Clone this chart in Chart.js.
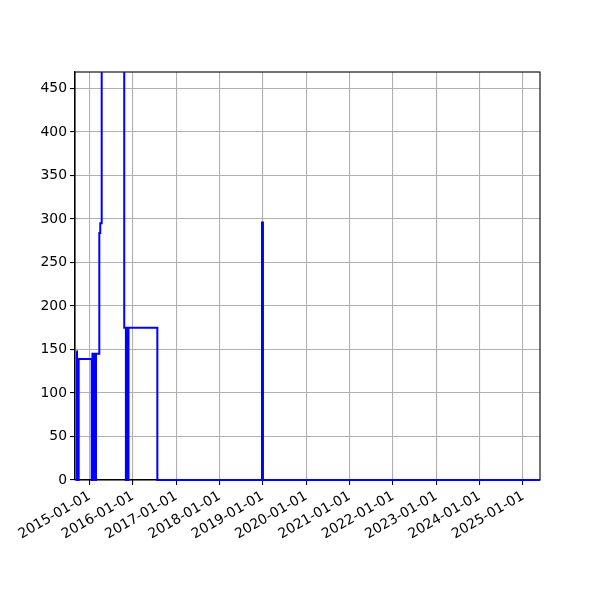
<!DOCTYPE html>
<html>
<head>
<meta charset="utf-8">
<script src="https://cdn.jsdelivr.net/npm/chart.js@4.4.1/dist/chart.umd.min.js"></script>
<style>
html,body{margin:0;padding:0;background:#fff;}
#wrap{width:600px;height:600px;}
</style>
</head>
<body>
<div id="wrap"><canvas id="c" width="600" height="600"></canvas></div>
<script>
// ---- data ----
const dates = [
  "2014-09-13","2014-09-17","2014-10-01","2015-01-19","2015-01-25","2015-02-07",
  "2015-02-24","2015-03-24","2015-04-01","2015-04-13","2015-10-20",
  "2015-11-03","2015-11-05","2015-11-07","2015-11-09","2015-11-11","2015-11-13",
  "2015-11-15","2015-11-17","2015-11-19","2015-11-21","2015-11-23","2015-11-25",
  "2015-11-27","2016-07-25","2018-12-24","2019-01-01","2025-05-31"
];
const values = [
  148, 0, 139, 0, 145, 0,
  145, 284, 295, 1000, 175,
  0, 175, 0, 175, 0, 175,
  0, 175, 0, 175, 0, 175,
  175, 0, 296, 0, 0
];
const xTickLabels = ["2015-01-01","2016-01-01","2017-01-01","2018-01-01","2019-01-01",
  "2020-01-01","2021-01-01","2022-01-01","2023-01-01","2024-01-01","2025-01-01"];
const yTickValues = [0, 50, 100, 150, 200, 250, 300, 350, 400, 450];
const xRange = ["2014-08-31", "2025-05-24"];
const yRange = [0, 469];

function toDay(s){ const p = s.split("-").map(Number); return Date.UTC(p[0], p[1]-1, p[2]) / 86400000; }

const points = dates.map((d, i) => ({ x: toDay(d), y: values[i] }));

const frame = {
  id: 'frame',
  beforeDatasetsDraw(chart){
    const a = chart.chartArea, ctx = chart.ctx;
    ctx.save();
    ctx.strokeStyle = '#000';
    ctx.lineWidth = 1.1;
    ctx.strokeRect(a.left, a.top, a.right - a.left, a.bottom - a.top);
    ctx.restore();
  }
};

const font = { family: 'DejaVu Sans', size: 13.9 };

new Chart(document.getElementById('c'), {
  type: 'line',
  data: { datasets: [{
    data: points,
    borderColor: '#0000ff',
    borderWidth: 2,
    pointRadius: 0,
    stepped: true,
    fill: false,
    clip: { left: 0, top: 0, right: 0, bottom: 2 }
  }]},
  options: {
    responsive: false,
    animation: false,
    devicePixelRatio: 1,
    layout: { padding: { left: 0, right: 60, top: 72, bottom: 0 } },
    plugins: { legend: { display: false }, tooltip: { enabled: false } },
    scales: {
      x: {
        type: 'linear',
        min: toDay(xRange[0]),
        max: toDay(xRange[1]),
        afterBuildTicks: s => { s.ticks = xTickLabels.map(l => ({ value: toDay(l) })); },
        afterFit: s => { s.height = 120; },
        ticks: {
          autoSkip: false, minRotation: 30, maxRotation: 30,
          color: '#000', font: font, padding: 3,
          callback: (v, i) => xTickLabels[i]
        },
        grid: { color: '#b0b0b0', lineWidth: 1.1, tickColor: '#000', tickLength: 5, tickWidth: 1.1 },
        border: { display: true, color: '#000', width: 1.1 }
      },
      y: {
        min: yRange[0],
        max: yRange[1],
        afterBuildTicks: s => { s.ticks = yTickValues.map(v => ({ value: v })); },
        afterFit: s => { s.width = 75; },
        ticks: { color: '#000', font: font, padding: 3, callback: v => String(v) },
        grid: { color: '#b0b0b0', lineWidth: 1.1, tickColor: '#000', tickLength: 5, tickWidth: 1.1 },
        border: { display: true, color: '#000', width: 1.1 }
      }
    }
  },
  plugins: [frame]
});
</script>
</body>
</html>
